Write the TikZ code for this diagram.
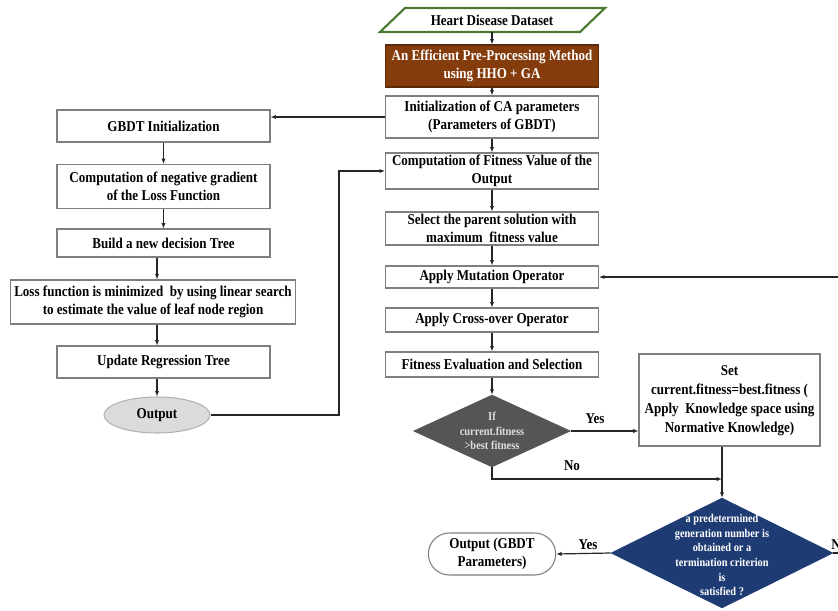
\documentclass[tikz,border=0pt]{standalone}
\usepackage{fontspec}
\setmainfont{Liberation Serif}[FakeStretch=0.87]
\usetikzlibrary{shapes.geometric,shapes.misc,arrows.meta}
\definecolor{brownbox}{HTML}{843C0C}
\definecolor{navydia}{HTML}{1F3B73}
\definecolor{graydia}{HTML}{555555}
\definecolor{greenpar}{HTML}{4A7A32}
\definecolor{boxline}{HTML}{7F7F7F}
\definecolor{conn}{HTML}{262626}
\def\pxu{0.75pt}
\begin{document}
\begin{tikzpicture}[x=0.75pt,y=-0.75pt,
  txt/.style={font=\fontsize{11.25pt}{13.5pt}\selectfont\bfseries, align=center, text=black},
  box/.style={txt, draw=boxline, line width=0.8pt, fill=white, inner sep=1pt},
  arr/.style={draw=conn, line width=0.9pt, -{Latex[length=4pt,width=3.2pt]}},
  ln/.style={draw=conn, line width=0.9pt},
  lab/.style={font=\fontsize{11.25pt}{13.5pt}\selectfont\bfseries, text=black}
]
\useasboundingbox (0,0) rectangle (838,610);

% data parallelogram
\draw[greenpar, line width=1.6pt, fill=white] (380,32) -- (405,8) -- (605,8) -- (580,32) -- cycle;
\node[txt, minimum width=200*\pxu, minimum height=24*\pxu, inner sep=0pt] (data) at (492,20) {Heart Disease Dataset};

% right column
\node[box, fill=brownbox, draw=brownbox!70!black, text=white, minimum width=213*\pxu, minimum height=42*\pxu] (pre) at (492,66) {An Efficient Pre-Processing Method\\using HHO + GA};
\node[box, minimum width=213*\pxu, minimum height=42*\pxu] (init) at (492,117) {Initialization of CA parameters\\(Parameters of GBDT)};
\node[box, minimum width=213*\pxu, minimum height=36*\pxu] (fit) at (492,171) {Computation of Fitness Value of the\\Output};
\node[box, minimum width=213*\pxu, minimum height=33*\pxu] (sel) at (492,228.5) {Select the parent solution with\\maximum\ \ fitness value};
\node[box, minimum width=213*\pxu, minimum height=22*\pxu] (mut) at (492,277) {Apply Mutation Operator};
\node[box, minimum width=213*\pxu, minimum height=24*\pxu] (cross) at (492,320) {Apply Cross-over Operator};
\node[box, minimum width=213*\pxu, minimum height=25*\pxu] (feval) at (492,364.5) {Fitness Evaluation and Selection};

% left column
\node[box, minimum width=213*\pxu, minimum height=32*\pxu] (gbdt) at (163.5,126) {GBDT Initialization};
\node[box, minimum width=213*\pxu, minimum height=44*\pxu] (neg) at (163.5,186.5) {Computation of negative gradient\\of the Loss Function};
\node[box, minimum width=213*\pxu, minimum height=28*\pxu] (build) at (163.5,243) {Build a new decision Tree};
\node[box, minimum width=285*\pxu, minimum height=44*\pxu] (loss) at (153,302) {Loss function is minimized\ \ by using linear search\\to estimate the value of leaf node region};
\node[box, minimum width=213*\pxu, minimum height=32*\pxu] (upd) at (163.5,362) {Update Regression Tree};
\node[txt, ellipse, draw=gray!60, line width=0.8pt, fill=gray!28, minimum width=106*\pxu, minimum height=36*\pxu, inner sep=0pt] (out) at (157,415) {Output};

% set box
\node[box, minimum width=181*\pxu, minimum height=92*\pxu] (set) at (729.5,400) {};
\node[txt, font=\fontsize{11.25pt}{14.25pt}\selectfont\bfseries] at (729.5,401) {Set\\current.fitness=best.fitness (\\Apply\ \ Knowledge space using\\Normative Knowledge)};

% diamonds
\node[diamond, draw=graydia, fill=graydia, minimum width=157*\pxu, minimum height=72*\pxu, inner sep=0pt] (d1) at (492,431) {};
\node[align=center, text=gray!25, font=\fontsize{9pt}{11pt}\selectfont\bfseries] at (492,431) {If\\current.fitness\\>best fitness};
\node[diamond, draw=navydia, fill=navydia, minimum width=222*\pxu, minimum height=110*\pxu, inner sep=0pt] (d2) at (722,553) {};
\node[align=center, text=white, font=\fontsize{8.9pt}{11pt}\selectfont\bfseries] at (722,555) {a predetermined\\generation number is\\obtained or a\\termination criterion\\is\\satisfied ?};

% final output
\node[txt, rounded rectangle, draw=boxline, line width=0.8pt, fill=white, minimum width=130*\pxu, minimum height=42*\pxu, inner sep=1pt] (final) at (492,554) {Output (GBDT\\Parameters)};

% coordinates
\coordinate (lp) at (339,171);
\coordinate (nj) at (722,479);
\coordinate (rl) at (860,277);

% connectors
\draw[arr] (data.south) -- (pre.north);
\draw[arr] (pre.south) -- (init.north);
\draw[arr] (init.south) -- (fit.north);
\draw[arr] (fit.south) -- (sel.north);
\draw[arr] (sel.south) -- (mut.north);
\draw[arr] (mut.south) -- (cross.north);
\draw[arr] (cross.south) -- (feval.north);
\draw[arr] (feval.south) -- (d1.north);
\draw[arr] (init.west) -- (init.west -| gbdt.east);
\draw[arr] (gbdt.south) -- (neg.north);
\draw[arr] (neg.south) -- (build.north);
\draw[arr] (build.south -| out) -- (loss.north -| out);
\draw[arr] (loss.south -| out) -- (upd.north -| out);
\draw[arr] (upd.south -| out) -- (out.north);
\draw[arr] (out.east) -| (lp) -- (fit.west);
\draw[arr] (d1.east) -- (d1.east -| set.west);
\draw[arr] (d1.south) |- (nj);
\draw[ln] (set.south -| nj) -- (nj);
\draw[arr] (nj) -- (d2.north);
\draw[arr] (d2.west) -- (final.east);
\draw[arr] (d2.east) -| (rl) -- (mut.east);

% labels
\node[lab] at (595,419) {Yes};
\node[lab] at (572,466) {No};
\node[lab] at (588,545) {Yes};
\node[lab, anchor=west, inner sep=0pt] at (831,545) {No};
\end{tikzpicture}
\end{document}
